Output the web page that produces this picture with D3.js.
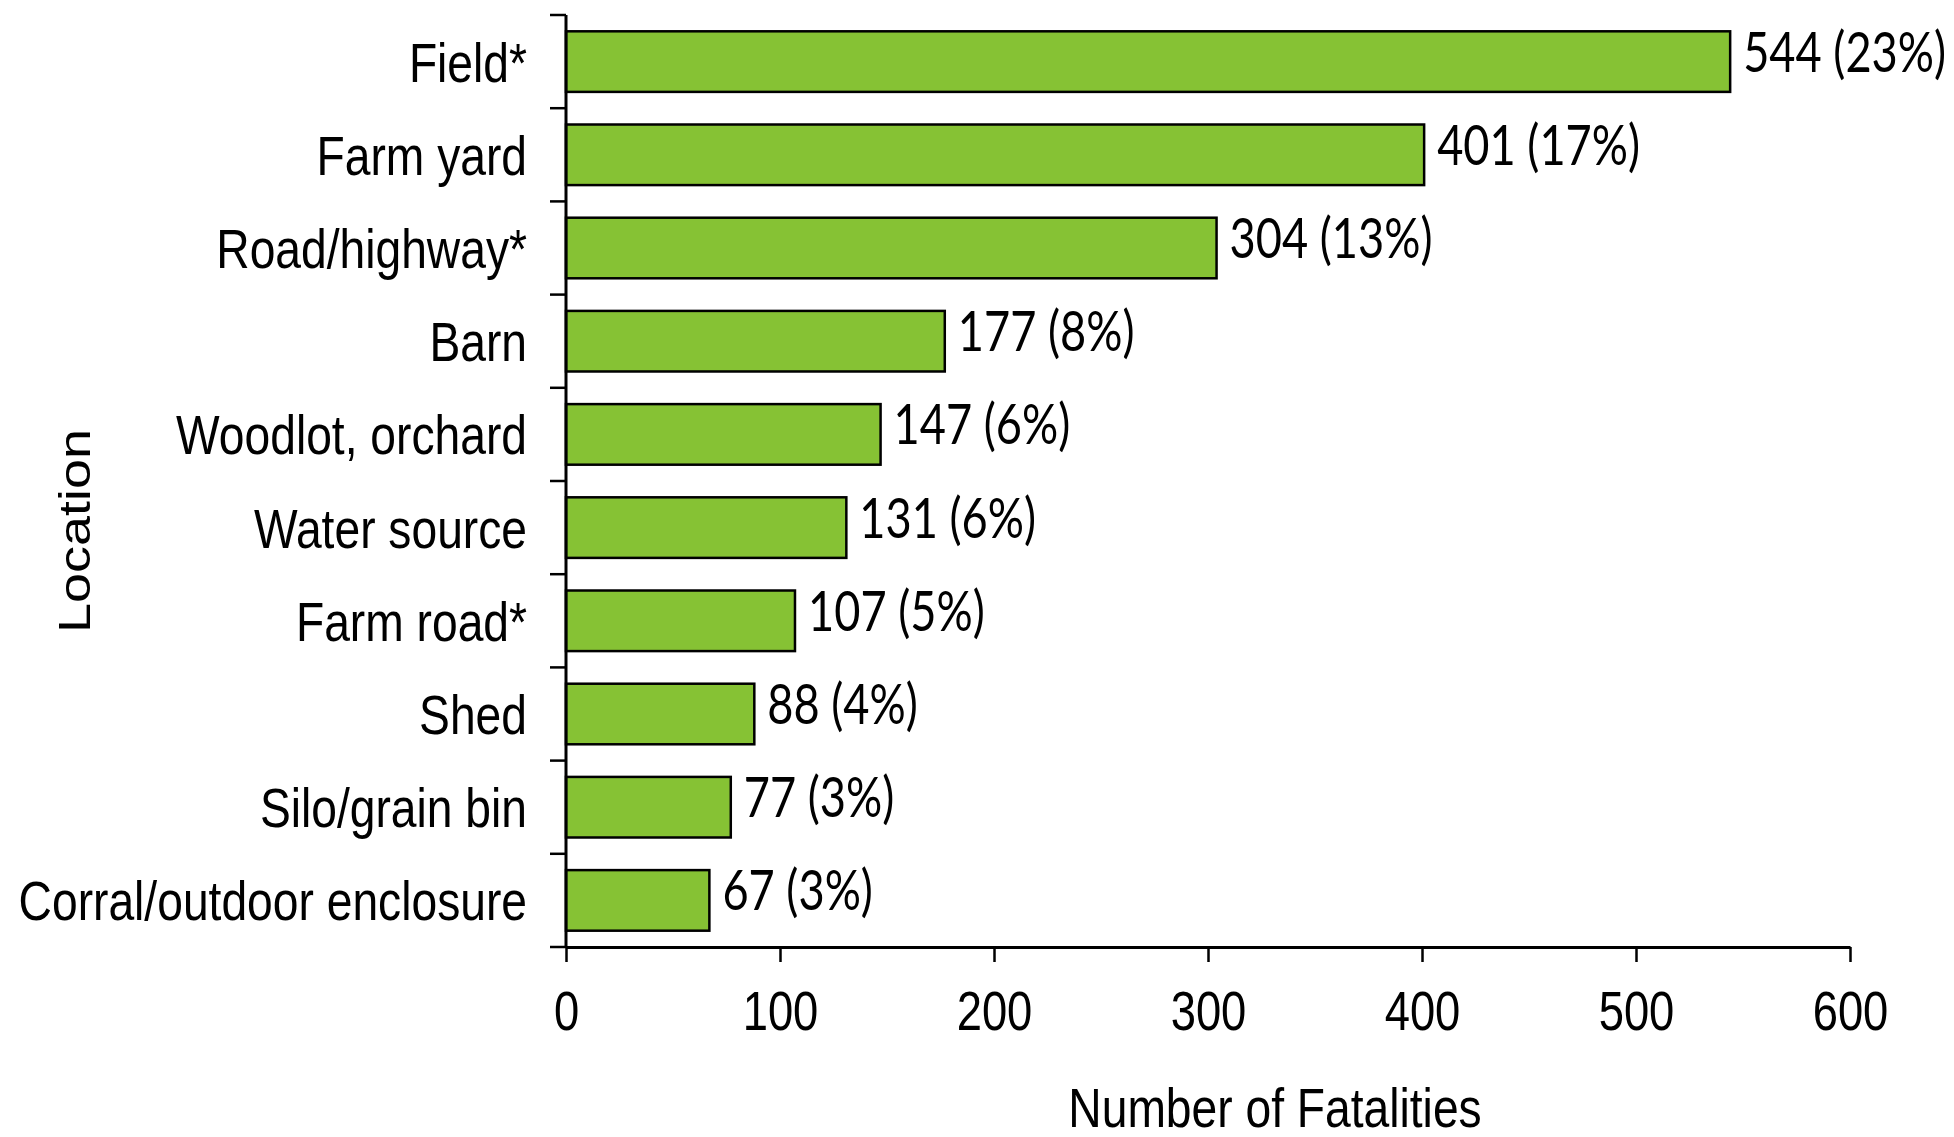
<!DOCTYPE html>
<html>
<head>
<meta charset="utf-8">
<script src="https://cdn.jsdelivr.net/npm/d3@7"></script>
<style>
  html, body { margin: 0; padding: 0; background: #fff; }
  svg { display: block; }
</style>
</head>
<body>
<script>
const categories = ["Field*", "Farm yard", "Road/highway*", "Barn", "Woodlot, orchard",
  "Water source", "Farm road*", "Shed", "Silo/grain bin", "Corral/outdoor enclosure"];
const fatalities = [544, 401, 304, 177, 147, 131, 107, 88, 77, 67];
const percents = [23, 17, 13, 8, 6, 6, 5, 4, 3, 3];
const xTicks = [0, 100, 200, 300, 400, 500, 600];
const xTitle = "Number of Fatalities";
const yTitle = "Location";

const W = 1954, H = 1137;
const SX = 0.825; // horizontal squeeze of the reference text
const sansFont = "'Liberation Sans', Arial, sans-serif";
const valueFont = "Lato, 'Open Sans', sans-serif";
const barFill = "#86c234";

const svg = d3.select("body").append("svg").attr("width", W).attr("height", H);

const x = d3.scaleLinear().domain([0, 600]).range([566, 1850]);
const y = d3.scaleBand().domain(categories).range([15, 947]).paddingInner(0.35).paddingOuter(0.175);

const data = categories.map((c, i) => ({ c, v: fatalities[i], p: percents[i] }));

// bars
svg.append("g").selectAll("rect").data(data).join("rect")
  .attr("x", x(0))
  .attr("y", d => y(d.c))
  .attr("width", d => x(d.v) - x(0))
  .attr("height", y.bandwidth())
  .attr("fill", barFill)
  .attr("stroke", "#000")
  .attr("stroke-width", 2.5);

// x axis
const xAxis = svg.append("g")
  .attr("transform", `translate(0,${y.range()[1]})`)
  .call(d3.axisBottom(x).tickValues(xTicks).tickSize(15).tickSizeOuter(0).tickFormat(d3.format("d")));
xAxis.select(".domain").attr("stroke", "#000").attr("stroke-width", 3);
xAxis.selectAll(".tick line").attr("stroke", "#000").attr("stroke-width", 2.5);
xAxis.selectAll(".tick text")
  .attr("y", 83).attr("dy", null)
  .attr("transform", `scale(${SX},1)`)
  .attr("fill", "#000")
  .style("font-family", sansFont)
  .style("font-size", "55px");

// y axis line and boundary ticks
const yAxis = svg.append("g");
yAxis.append("line")
  .attr("x1", x(0)).attr("x2", x(0))
  .attr("y1", y.range()[0]).attr("y2", y.range()[1])
  .attr("stroke", "#000").attr("stroke-width", 3);
const bounds = d3.range(categories.length + 1).map(i => y.range()[0] + i * y.step());
yAxis.selectAll("line.b").data(bounds).join("line")
  .attr("class", "b")
  .attr("x1", x(0) - 16).attr("x2", x(0))
  .attr("y1", d => d).attr("y2", d => d)
  .attr("stroke", "#000").attr("stroke-width", 2.5);

// category labels
svg.append("g").selectAll("text").data(data).join("text")
  .attr("transform", d => `translate(${x(0) - 39},${y(d.c) + y.bandwidth() / 2 + 20}) scale(${SX},1)`)
  .attr("text-anchor", "end")
  .style("font-family", sansFont)
  .style("font-size", "56px")
  .attr("fill", "#000")
  .text(d => d.c);

// value labels
const vl = svg.append("g").selectAll("text").data(data).join("text")
  .attr("text-anchor", "start")
  .style("font-family", valueFont)
  .style("font-size", "56px")
  .attr("fill", "#000")
  .text(d => `${d.v} (${d.p}%)`);
const firstLen = vl.node().getComputedTextLength();
const vScale = Math.min(1, 203 / firstLen);
vl.attr("transform", d => `translate(${x(d.v) + 13},${y(d.c) + y.bandwidth() / 2 + 10}) scale(${vScale},1)`);

// axis titles
svg.append("text")
  .attr("transform", `translate(1275,1127) scale(${SX},1)`)
  .attr("text-anchor", "middle")
  .style("font-family", sansFont)
  .style("font-size", "56px")
  .attr("fill", "#000")
  .text(xTitle);

svg.append("text")
  .attr("transform", `translate(90,531) scale(${SX},1) rotate(-90)`)
  .attr("text-anchor", "middle")
  .style("font-family", sansFont)
  .style("font-size", "54px")
  .attr("fill", "#000")
  .text(yTitle);
</script>
</body>
</html>
